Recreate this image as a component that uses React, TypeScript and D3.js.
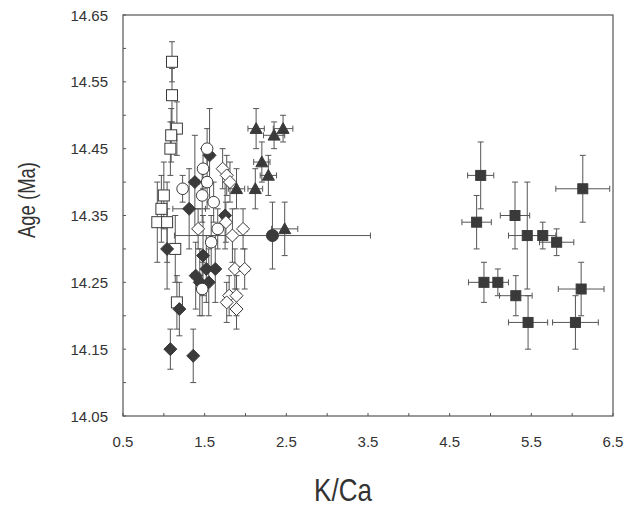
import React from "react";
import * as d3 from "d3";

// [K/Ca, age, K/Ca error, age error]
type Pt = [number, number, number, number];

const openSquares: Pt[] = [
  [1.1, 14.58, 0.03, 0.03],
  [1.1, 14.53, 0.03, 0.04],
  [1.16, 14.48, 0.03, 0.04],
  [1.09, 14.47, 0.03, 0.04],
  [1.08, 14.45, 0.03, 0.04],
  [1.0, 14.38, 0.03, 0.05],
  [0.97, 14.36, 0.03, 0.05],
  [0.92, 14.34, 0.04, 0.06],
  [1.04, 14.34, 0.04, 0.06],
  [1.14, 14.3, 0.03, 0.05],
  [1.16, 14.22, 0.03, 0.04],
];

const openCircles: Pt[] = [
  [1.53, 14.45, 0.03, 0.03],
  [1.48, 14.42, 0.03, 0.03],
  [1.23, 14.39, 0.03, 0.02],
  [1.53, 14.4, 0.03, 0.04],
  [1.47, 14.38, 0.03, 0.04],
  [1.61, 14.37, 0.04, 0.03],
  [1.66, 14.33, 0.04, 0.03],
  [1.58, 14.31, 0.03, 0.04],
  [1.47, 14.24, 0.03, 0.04],
];

const openDiamonds: Pt[] = [
  [1.42, 14.33, 0.04, 0.03],
  [1.72, 14.42, 0.04, 0.03],
  [1.77, 14.41, 0.04, 0.03],
  [1.81, 14.4, 0.04, 0.03],
  [1.76, 14.34, 0.05, 0.03],
  [1.84, 14.32, 0.05, 0.04],
  [1.97, 14.33, 0.05, 0.03],
  [1.87, 14.27, 0.05, 0.03],
  [1.99, 14.27, 0.05, 0.03],
  [1.8, 14.23, 0.05, 0.03],
  [1.89, 14.23, 0.05, 0.03],
  [1.77, 14.22, 0.05, 0.03],
  [1.89, 14.21, 0.05, 0.03],
];

const filledDiamonds: Pt[] = [
  [1.56, 14.44, 0.05, 0.07],
  [1.38, 14.4, 0.05, 0.07],
  [1.31, 14.36, 0.2, 0.06],
  [1.75, 14.35, 0.05, 0.05],
  [1.04, 14.3, 0.04, 0.06],
  [1.48, 14.29, 0.03, 0.06],
  [1.52, 14.27, 0.03, 0.05],
  [1.63, 14.27, 0.05, 0.05],
  [1.39, 14.26, 0.05, 0.05],
  [1.44, 14.25, 0.03, 0.05],
  [1.55, 14.25, 0.03, 0.05],
  [1.19, 14.21, 0.03, 0.04],
  [1.08, 14.15, 0.03, 0.03],
  [1.36, 14.14, 0.03, 0.04],
];

const filledCircles: Pt[] = [[2.33, 14.32, 1.2, 0.05]];

const filledTriangles: Pt[] = [
  [2.13, 14.48, 0.1, 0.03],
  [2.35, 14.47, 0.13, 0.02],
  [2.46, 14.48, 0.12, 0.02],
  [2.2, 14.43, 0.1, 0.03],
  [2.28, 14.41, 0.1, 0.03],
  [1.89, 14.39, 0.1, 0.03],
  [2.12, 14.39, 0.09, 0.03],
  [2.48, 14.33, 0.16, 0.04],
];

const filledSquares: Pt[] = [
  [4.88, 14.41, 0.16, 0.05],
  [4.83, 14.34, 0.18, 0.04],
  [5.3, 14.35, 0.18, 0.05],
  [5.45, 14.32, 0.23, 0.08],
  [5.64, 14.32, 0.16, 0.02],
  [5.81, 14.31, 0.21, 0.02],
  [6.13, 14.39, 0.33, 0.05],
  [4.92, 14.25, 0.19, 0.03],
  [5.09, 14.25, 0.13, 0.02],
  [5.31, 14.23, 0.2, 0.03],
  [5.46, 14.19, 0.24, 0.04],
  [6.11, 14.24, 0.28, 0.04],
  [6.04, 14.19, 0.28, 0.04],
];

const xTickLabels = [0.5, 1.5, 2.5, 3.5, 4.5, 5.5, 6.5];
const yTickLabels = [14.05, 14.15, 14.25, 14.35, 14.45, 14.55, 14.65];

const W = 633;
const H = 506;
const margin = { left: 123, right: 20, top: 15, bottom: 90 };
const ink = "#3a3a3a";
const font = "'Liberation Sans', Arial, sans-serif";

type Shape = "square" | "circle" | "diamond" | "triangle";

function Marker({ shape, filled, cx, cy }: { shape: Shape; filled: boolean; cx: number; cy: number }) {
  const fill = filled ? ink : "#fff";
  const common = { fill, stroke: ink, strokeWidth: 1 };
  if (shape === "circle") return <circle cx={cx} cy={cy} r={filled ? 6 : 5.8} {...common} />;
  if (shape === "square") {
    const s = filled ? 10 : 11;
    return <rect x={cx - s / 2} y={cy - s / 2} width={s} height={s} {...common} />;
  }
  if (shape === "diamond") {
    const s = 6.5;
    return <path d={`M${cx},${cy - s}L${cx + s},${cy}L${cx},${cy + s}L${cx - s},${cy}Z`} {...common} />;
  }
  const s = 6;
  return <path d={`M${cx},${cy - s}L${cx + s},${cy + s * 0.8}L${cx - s},${cy + s * 0.8}Z`} {...common} />;
}

export default function App() {
  const x = d3.scaleLinear().domain([0.5, 6.5]).range([margin.left, W - margin.right]);
  const y = d3.scaleLinear().domain([14.05, 14.65]).range([H - margin.bottom, margin.top]);

  const series: { data: Pt[]; shape: Shape; filled: boolean }[] = [
    { data: openSquares, shape: "square", filled: false },
    { data: filledDiamonds, shape: "diamond", filled: true },
    { data: openCircles, shape: "circle", filled: false },
    { data: openDiamonds, shape: "diamond", filled: false },
    { data: filledTriangles, shape: "triangle", filled: true },
    { data: filledCircles, shape: "circle", filled: true },
    { data: filledSquares, shape: "square", filled: true },
  ];

  const xTicks = d3.range(0.5, 6.51, 0.5);
  const yTicks = d3.range(0, 13).map((i) => 14.05 + i * 0.05);
  const cap = 3;
  const [x0, x1] = x.range();
  const [y0, y1] = y.range();

  return (
    <svg width={W} height={H} style={{ display: "block", fontFamily: font }}>
      <style>{`body{margin:0}`}</style>
      <rect width={W} height={H} fill="#fff" />

      {/* error bars */}
      <g stroke="#555" strokeWidth={1} fill="none">
        {series.map((s, si) =>
          s.data.map(([k, a, ke, ae], i) => {
            const cx = x(k);
            const cy = y(a);
            const xl = x(k - ke);
            const xr = x(k + ke);
            const yt = y(a + ae);
            const yb = y(a - ae);
            return (
              <g key={`${si}-${i}`}>
                <line x1={xl} x2={xr} y1={cy} y2={cy} />
                <line x1={xl} x2={xl} y1={cy - cap} y2={cy + cap} />
                <line x1={xr} x2={xr} y1={cy - cap} y2={cy + cap} />
                <line x1={cx} x2={cx} y1={yt} y2={yb} />
                <line x1={cx - cap} x2={cx + cap} y1={yt} y2={yt} />
                <line x1={cx - cap} x2={cx + cap} y1={yb} y2={yb} />
              </g>
            );
          })
        )}
      </g>

      {/* markers */}
      {series.map((s, si) =>
        s.data.map(([k, a], i) => (
          <Marker key={`m${si}-${i}`} shape={s.shape} filled={s.filled} cx={x(k)} cy={y(a)} />
        ))
      )}

      {/* frame */}
      <rect x={x0} y={y1} width={x1 - x0} height={y0 - y1} fill="none" stroke="#555" strokeWidth={1.2} />

      {/* ticks */}
      <g stroke="#555" strokeWidth={1}>
        {xTicks.map((t) => (
          <line key={`xt${t}`} x1={x(t)} x2={x(t)} y1={y0} y2={y0 - 3} />
        ))}
        {yTicks.map((t) => (
          <line key={`yt${t}`} x1={x0} x2={x0 + 3} y1={y(t)} y2={y(t)} />
        ))}
      </g>

      {/* tick labels */}
      <g fontSize={15} fill="#333">
        {xTickLabels.map((t) => (
          <text key={`xl${t}`} x={x(t)} y={y0 + 31} textAnchor="middle">
            {t.toFixed(1)}
          </text>
        ))}
        {yTickLabels.map((t) => (
          <text key={`yl${t}`} x={x0 - 15} y={y(t) + 5.5} textAnchor="end">
            {t.toFixed(2)}
          </text>
        ))}
      </g>

      {/* axis titles */}
      <text
        transform="translate(343,501) scale(1,1.18)"
        textAnchor="middle"
        fontSize={26}
        fill="#333"
      >
        K/Ca
      </text>
      <text
        transform="translate(35,200) rotate(-90) scale(1,1.28)"
        textAnchor="middle"
        fontSize={18.5}
        fill="#333"
      >
        Age (Ma)
      </text>
    </svg>
  );
}
